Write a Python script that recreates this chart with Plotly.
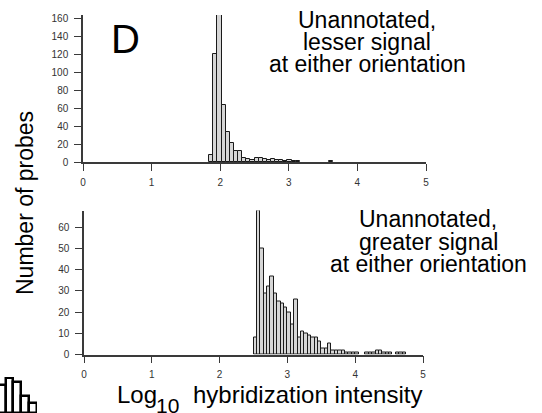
import plotly.graph_objects as go

# ---------------- data ----------------
# Top panel: "Unannotated, lesser signal at either orientation"
top_bin_left = [1.84, 1.90, 1.96, 2.02, 2.08, 2.14, 2.20, 2.26, 2.32, 2.38, 2.44,
                2.50, 2.56, 2.62, 2.68, 2.74, 2.80, 2.86, 2.92, 2.98, 3.04, 3.10, 3.58]
top_counts = [8, 120, 164, 64, 33, 21, 12, 12, 4, 3, 2,
              4, 4, 3, 2, 3, 2, 2, 1, 2, 1, 1, 1]
top_bin_width = 0.06

# Bottom panel: "Unannotated, greater signal at either orientation"
bot_bin_left = [2.50, 2.55, 2.60, 2.65, 2.70, 2.75, 2.80, 2.85, 2.90, 2.95,
                3.00, 3.05, 3.10, 3.15, 3.20, 3.25, 3.30, 3.35, 3.40, 3.45,
                3.50, 3.55, 3.60, 3.65, 3.70, 3.75, 3.80, 3.85, 3.90, 3.95,
                4.00, 4.15, 4.20, 4.25, 4.30, 4.35, 4.40, 4.45, 4.50, 4.60,
                4.65, 4.70]
bot_counts = [8, 68, 50, 29, 32, 37, 29, 25, 24, 22,
              20, 14, 26, 8, 11, 10, 9, 8, 8, 6,
              3, 3, 5, 2, 2, 2, 2, 1, 1, 1,
              1, 1, 1, 1, 2, 2, 1, 1, 1, 1,
              1, 1]
bot_bin_width = 0.05

# cropped neighbouring-panel glyph (bottom-left corner)
icon_counts = [8, 10, 9, 5, 3]

x_ticks = [0, 1, 2, 3, 4, 5]
top_y_ticks = [0, 20, 40, 60, 80, 100, 120, 140, 160]
bot_y_ticks = [0, 10, 20, 30, 40, 50, 60]

# ---------------- layout helpers ----------------
W, H = 542, 413


def px(x):
    return x / W


def py(y):
    return 1 - y / H


BAR_FILL = "#d6d6d6"
BAR_LINE = "#1a1a1a"
AXIS_COL = "#3a3a3a"
FONT = "Liberation Sans, Arial, sans-serif"

fig = go.Figure()

fig.add_trace(go.Bar(
    x=[b + top_bin_width / 2 for b in top_bin_left], y=top_counts,
    width=top_bin_width, marker=dict(color=BAR_FILL, line=dict(color=BAR_LINE, width=1)),
    xaxis="x", yaxis="y", showlegend=False, hoverinfo="skip"))

fig.add_trace(go.Bar(
    x=[b + bot_bin_width / 2 for b in bot_bin_left], y=bot_counts,
    width=bot_bin_width, marker=dict(color=BAR_FILL, line=dict(color=BAR_LINE, width=1)),
    xaxis="x2", yaxis="y2", showlegend=False, hoverinfo="skip"))

fig.add_trace(go.Bar(
    x=list(range(len(icon_counts))), y=icon_counts, width=1,
    marker=dict(color="white", line=dict(color="black", width=2.5)),
    xaxis="x3", yaxis="y3", showlegend=False, hoverinfo="skip"))

axis_common = dict(
    showline=True, linecolor=AXIS_COL, linewidth=1.5,
    ticks="outside", ticklen=7, tickwidth=1.2, tickcolor=AXIS_COL,
    showgrid=False, zeroline=False,
    tickfont=dict(family=FONT, size=10, color="#333"),
)

fig.update_layout(
    width=W, height=H,
    margin=dict(l=0, r=0, t=0, b=0, autoexpand=False),
    paper_bgcolor="white", plot_bgcolor="white",
    bargap=0,
    xaxis=dict(domain=[px(83), px(426)], range=[0, 5], anchor="y",
               tickvals=x_ticks, ticklabelstandoff=3, **axis_common),
    yaxis=dict(domain=[py(162), py(15)], range=[0, 164], anchor="x",
               tickvals=top_y_ticks, ticklabelstandoff=4, **axis_common),
    xaxis2=dict(domain=[px(84), px(423)], range=[0, 5], anchor="y2",
                tickvals=x_ticks, ticklabelstandoff=3, **axis_common),
    yaxis2=dict(domain=[py(354.5), py(210.5)], range=[0, 68], anchor="x2",
                tickvals=bot_y_ticks, ticklabelstandoff=4, **axis_common),
    xaxis3=dict(domain=[0, px(37)], range=[-0.2, 4.5], visible=False, anchor="y3"),
    yaxis3=dict(domain=[0, py(377)], range=[0, 10.3], visible=False, anchor="x3"),
)

ann = []
ann.append(dict(text="D", x=px(125), y=py(39), font=dict(family=FONT, size=40, color="black")))

top_lines = ["Unannotated,", "lesser signal", "at either orientation"]
for i, t in enumerate(top_lines):
    ann.append(dict(text=t, x=px(367), y=py(20.5 + 22 * i),
                    font=dict(family=FONT, size=23, color="black")))

bot_lines = ["Unannotated,", "greater signal", "at either orientation"]
for i, t in enumerate(bot_lines):
    ann.append(dict(text=t, x=px(428), y=py(219 + 22.5 * i),
                    font=dict(family=FONT, size=23, color="black")))

ann.append(dict(text="Number of probes", x=px(25), y=py(203), textangle=-90,
                font=dict(family=FONT, size=23, color="black")))

# x-axis title: "Log", subscript "10", "hybridization intensity"
ann.append(dict(text="Log", x=px(115), y=py(394), xanchor="left",
                font=dict(family=FONT, size=24, color="black")))
ann.append(dict(text="10", x=px(154), y=py(405), xanchor="left",
                font=dict(family=FONT, size=21, color="black")))
ann.append(dict(text="hybridization intensity", x=px(191), y=py(394), xanchor="left",
                font=dict(family=FONT, size=24, color="black")))

for a in ann:
    a.setdefault("xanchor", "center")
    a.update(xref="paper", yref="paper", yanchor="middle", showarrow=False)
fig.update_layout(annotations=ann)

fig.write_html("out.html", config={"displayModeBar": False},
               post_script="document.body.style.margin='0';document.body.style.overflow='hidden';")
